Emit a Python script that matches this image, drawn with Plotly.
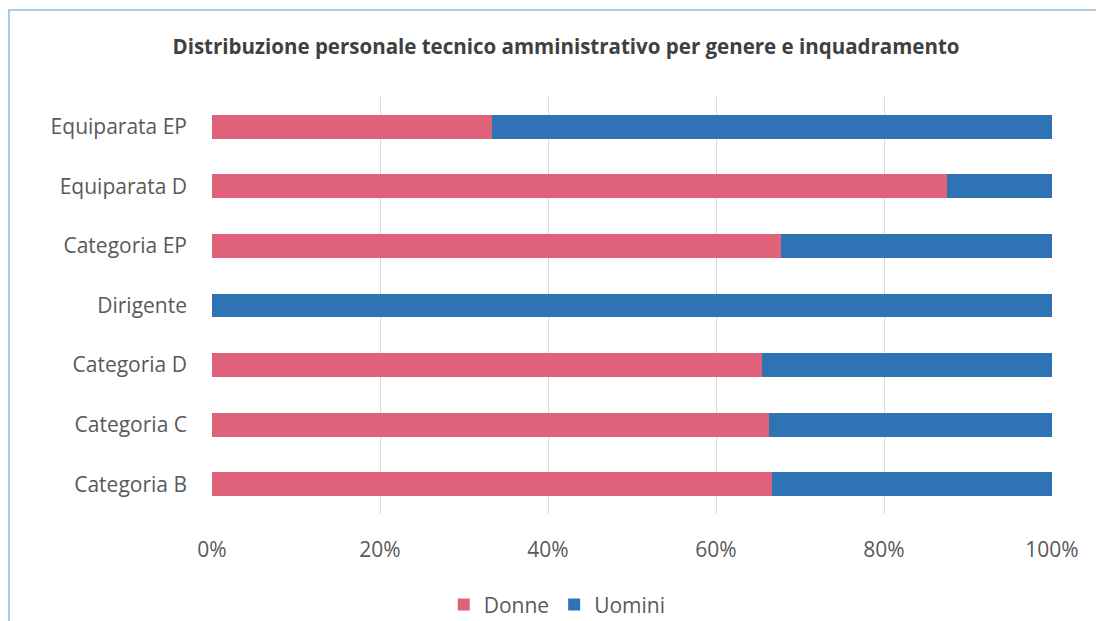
import plotly.graph_objects as go

categories = ["Categoria B", "Categoria C", "Categoria D", "Dirigente",
              "Categoria EP", "Equiparata D", "Equiparata EP"]
donne = [66.7, 66.3, 65.5, 0.0, 67.7, 87.5, 33.3]
uomini = [100 - v for v in donne]
tick_vals = [0, 20, 40, 60, 80, 100]
tick_text = ["0%", "20%", "40%", "60%", "80%", "100%"]

font_family = "'Open Sans', sans-serif"

fig = go.Figure()
fig.add_trace(go.Bar(y=categories, x=donne, name="Donne", orientation="h",
                     marker=dict(color="#E0627A", line=dict(width=0))))
fig.add_trace(go.Bar(y=categories, x=uomini, name="Uomini", orientation="h",
                     marker=dict(color="#2E74B5", line=dict(width=0))))

# page has an 8px body margin; figure sized to fit inside the 1104x621 window
fig.update_layout(
    barmode="stack",
    bargap=0.6,
    width=1096, height=613,
    margin=dict(l=204, r=52, t=89, b=107, autoexpand=False),
    paper_bgcolor="white",
    plot_bgcolor="white",
    font=dict(family=font_family, color="#595959", size=21),
    title=dict(text="<b>Distribuzione personale tecnico amministrativo per genere e inquadramento</b>",
               x=(566 - 8) / 1096, xanchor="center", y=1 - (47 - 8) / 613, yanchor="middle",
               font=dict(size=20.5, color="#404040", family=font_family)),
    xaxis=dict(range=[0, 100], tickvals=tick_vals, ticktext=tick_text,
               showgrid=True, gridcolor="#D9D9D9", gridwidth=1,
               zeroline=False, showline=False, ticks="",
               ticklabelstandoff=21, fixedrange=True),
    yaxis=dict(showgrid=False, zeroline=False, showline=False, ticks="",
               ticklabelstandoff=24, fixedrange=True),
    legend=dict(orientation="h", x=0.411, xanchor="center", y=-0.218, yanchor="middle",
                font=dict(size=21, color="#595959"), traceorder="normal",
                itemwidth=30),
    showlegend=True,
    shapes=[dict(type="rect", xref="paper", yref="paper",
                 x0=-203 / 840, x1=1.2, y0=-0.5, y1=(506 - 2) / 417,
                 line=dict(color="#A9CCE8", width=2), fillcolor="rgba(0,0,0,0)",
                 layer="below")],
)

fig.write_html("out.html")
